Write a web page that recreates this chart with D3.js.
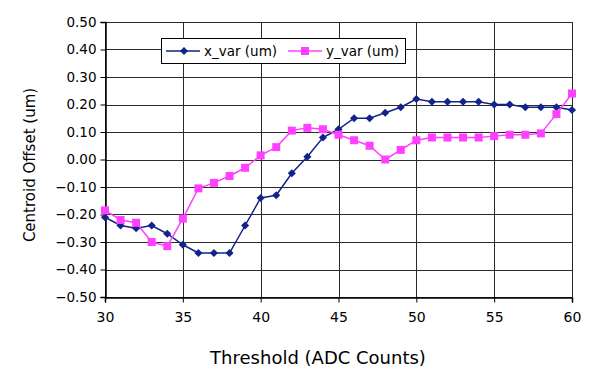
<!DOCTYPE html>
<html><head><meta charset="utf-8">
<script src="https://cdn.jsdelivr.net/npm/d3@7"></script>
<style>body{margin:0;background:#fff}svg{display:block}text{font-family:"DejaVu Sans",sans-serif;fill:#000}</style>
</head><body><svg id="c" width="600" height="383"></svg>
<script>
const thresholds = [30,31,32,33,34,35,36,37,38,39,40,41,42,43,44,45,46,47,48,49,50,51,52,53,54,55,56,57,58,59,60];
const xVar = [-0.21,-0.24,-0.25,-0.24,-0.27,-0.31,-0.34,-0.34,-0.34,-0.24,-0.14,-0.13,-0.05,0.01,0.08,0.11,0.15,0.15,0.17,0.19,0.22,0.21,0.21,0.21,0.21,0.20,0.20,0.19,0.19,0.19,0.18];
const yVar = [-0.185,-0.22,-0.23,-0.30,-0.315,-0.215,-0.105,-0.085,-0.06,-0.03,0.015,0.045,0.105,0.115,0.11,0.09,0.07,0.05,0.00,0.035,0.07,0.08,0.08,0.08,0.08,0.085,0.09,0.09,0.095,0.165,0.24];
const xTicks = [30,35,40,45,50,55,60];
const yTicks = [-0.5,-0.4,-0.3,-0.2,-0.1,0,0.1,0.2,0.3,0.4,0.5];
const seriesNames = ["x_var (um)","y_var (um)"];
const colors = ["#14238a","#ff40ff"];

const svg = d3.select("#c");
const L=105,R=572,T=22,B=297;
const x = d3.scaleLinear().domain([30,60]).range([L,R]);
const y = d3.scaleLinear().domain([-0.5,0.5]).range([B,T]);

// gridlines
svg.append("g").selectAll("line").data(yTicks).join("line")
  .attr("x1",L).attr("x2",R).attr("y1",d=>Math.round(y(d))+0.5).attr("y2",d=>Math.round(y(d))+0.5)
  .attr("stroke","#2a2a2a").attr("stroke-width",1);
svg.append("g").selectAll("line").data(xTicks).join("line")
  .attr("y1",T).attr("y2",B).attr("x1",d=>Math.round(x(d))+0.5).attr("x2",d=>Math.round(x(d))+0.5)
  .attr("stroke","#2a2a2a").attr("stroke-width",1);

// axes
const ya = svg.append("g").attr("transform",`translate(${L+0.5},0)`)
  .call(d3.axisLeft(y).tickValues(yTicks).tickFormat(d3.format(".2f")).tickSize(5).tickPadding(4));
const xa = svg.append("g").attr("transform",`translate(0,${B+0.5})`)
  .call(d3.axisBottom(x).tickValues(xTicks).tickFormat(d3.format("d")).tickSize(5).tickPadding(10));
[ya,xa].forEach(a=>{a.select(".domain").attr("stroke","#000").attr("stroke-width",1.5);
  a.selectAll(".tick line").attr("stroke","#000");
  a.selectAll("text").attr("font-family","DejaVu Sans").attr("fill","#000");});
ya.selectAll("text").attr("font-size",13.5);
xa.selectAll("text").attr("font-size",14);

// lines
const data = [xVar,yVar];
data.forEach((vals,i)=>{
  const line = d3.line().x((d,j)=>x(thresholds[j])).y(d=>y(d));
  svg.append("path").datum(vals).attr("d",line).attr("fill","none")
    .attr("stroke",colors[i]).attr("stroke-width",1.5);
});
// markers
const diamond = d3.symbol().type(d3.symbolDiamond2).size(42);
svg.append("g").selectAll("path").data(xVar).join("path")
  .attr("d",diamond).attr("transform",(d,j)=>`translate(${x(thresholds[j])},${y(d)})`)
  .attr("fill",colors[0]);
svg.append("g").selectAll("rect").data(yVar).join("rect")
  .attr("x",(d,j)=>x(thresholds[j])-4).attr("y",d=>y(d)-4).attr("width",8).attr("height",8)
  .attr("fill",colors[1]);

// legend
const lg = svg.append("g");
lg.append("rect").attr("x",161.5).attr("y",38.5).attr("width",244).attr("height",25)
  .attr("fill","#fff").attr("stroke","#000").attr("stroke-width",1);
const lx=[166,288];
seriesNames.forEach((n,i)=>{
  lg.append("line").attr("x1",lx[i]).attr("x2",lx[i]+34).attr("y1",51).attr("y2",51)
    .attr("stroke",colors[i]).attr("stroke-width",1.5);
  if(i===0) lg.append("path").attr("d",diamond).attr("transform",`translate(${lx[i]+18},51)`).attr("fill",colors[i]);
  else lg.append("rect").attr("x",lx[i]+13).attr("y",47).attr("width",8).attr("height",8).attr("fill",colors[i]);
  lg.append("text").attr("x",lx[i]+38).attr("y",56).attr("font-size",13.5).text(n);
});

// axis titles
svg.append("text").attr("x",318).attr("y",364).attr("text-anchor","middle").attr("font-size",18).text("Threshold (ADC Counts)");
svg.append("text").attr("transform",`translate(35,165) rotate(-90)`).attr("text-anchor","middle").attr("font-size",15).text("Centroid Offset (um)");
</script></body></html>
